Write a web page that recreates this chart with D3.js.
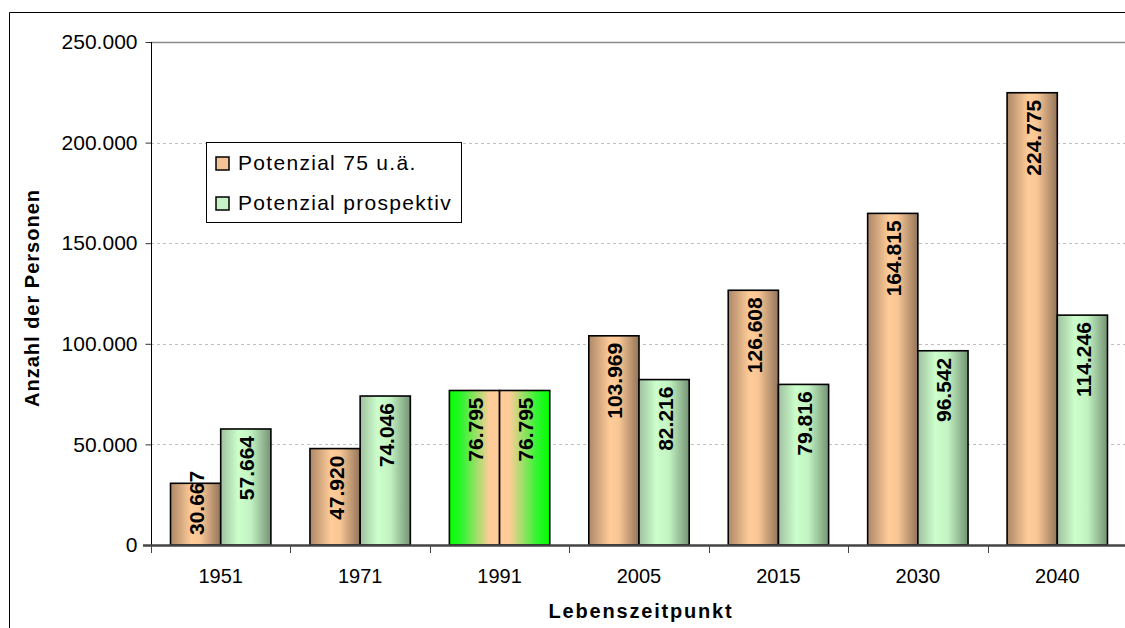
<!DOCTYPE html>
<html>
<head>
<meta charset="utf-8">
<script src="https://cdn.jsdelivr.net/npm/d3@7"></script>
<style>
  body { margin: 0; background: #fff; overflow: hidden; }
  svg { display: block; font-family: "Liberation Sans", Arial, sans-serif; }
</style>
</head>
<body>
<div id="chart"></div>
<script>
// chart data
var years = ["1951", "1971", "1991", "2005", "2015", "2030", "2040"];
var seriesNames = ["Potenzial 75 u.ä.", "Potenzial prospektiv"];
var potenzial75 = [30667, 47920, 76795, 103969, 126608, 164815, 224775];
var potenzialProspektiv = [57664, 74046, 76795, 82216, 79816, 96542, 114246];
var yTicks = [0, 50000, 100000, 150000, 200000, 250000];
var highlightYears = ["1991"];

var width = 1125, height = 628;
var plot = {left: 151, top: 42, right: 1127, bottom: 545};

var fmt = function (v) {
  return d3.format(",")(v).replace(/,/g, ".");
};

var svg = d3.select("#chart").append("svg")
  .attr("width", width)
  .attr("height", height);

var defs = svg.append("defs");

function addGradient(id, stops) {
  var g = defs.append("linearGradient")
    .attr("id", id)
    .attr("x1", "0").attr("y1", "0")
    .attr("x2", "1").attr("y2", "0");
  stops.forEach(function (s) {
    g.append("stop").attr("offset", s[0]).attr("stop-color", s[1]);
  });
}
addGradient("gradOrange", [[0, "#ad8868"], [0.42, "#ffcc99"], [0.6, "#f8c694"], [1, "#937459"]]);
addGradient("gradGreen", [[0, "#a0c0a0"], [0.35, "#ccffcc"], [0.6, "#c2f2c2"], [1, "#749474"]]);
addGradient("gradHiLeft", [[0, "#00ff00"], [0.25, "#30f530"], [0.8, "#ffcc99"], [1, "#ffcc99"]]);
addGradient("gradHiRight", [[0, "#ffcc99"], [0.2, "#ffcc99"], [0.75, "#30f530"], [1, "#00ff00"]]);

// outer chart frame: only left and top edges are inside the picture
svg.append("path")
  .attr("d", "M9.5," + height + "V12.5H" + width)
  .attr("fill", "none")
  .attr("stroke", "#000");

var x = d3.scaleBand()
  .domain(years)
  .range([plot.left, plot.right]);

var xSub = d3.scaleBand()
  .domain([0, 1])
  .range([x.bandwidth() * 0.14, x.bandwidth() * 0.86]);

var y = d3.scaleLinear()
  .domain([0, 250000])
  .range([plot.bottom, plot.top]);

// gridlines
svg.append("g")
  .selectAll("line")
  .data(yTicks.filter(function (d) { return d > 0 && d < 250000; }))
  .join("line")
  .attr("x1", plot.left).attr("x2", width)
  .attr("y1", function (d) { return Math.round(y(d)) + 0.5; })
  .attr("y2", function (d) { return Math.round(y(d)) + 0.5; })
  .attr("stroke", "#c0c0c0")
  .attr("stroke-dasharray", "3,3");

svg.append("line")
  .attr("x1", plot.left).attr("x2", width)
  .attr("y1", y(250000) + 0.5).attr("y2", y(250000) + 0.5)
  .attr("stroke", "#8a8a8a")
  .attr("stroke-width", 1.5);

// y axis
var yAxis = d3.axisLeft(y)
  .tickValues(yTicks)
  .tickSize(6)
  .tickPadding(8)
  .tickFormat(fmt);

var yG = svg.append("g")
  .attr("transform", "translate(" + (plot.left + 0.5) + ",0)")
  .call(yAxis);
yG.select(".domain").remove();
yG.selectAll(".tick line").attr("stroke", "#333");
yG.selectAll(".tick text")
  .attr("font-size", 21)
  .attr("font-family", "Liberation Sans, Arial, sans-serif")
  .attr("fill", "#000");

svg.append("line")
  .attr("x1", plot.left + 0.5).attr("x2", plot.left + 0.5)
  .attr("y1", plot.top).attr("y2", plot.bottom + 5)
  .attr("stroke", "#000");

// bars
var seriesValues = [potenzial75, potenzialProspektiv];
var barData = [];
years.forEach(function (yr, i) {
  seriesValues.forEach(function (vals, s) {
    barData.push({year: yr, s: s, value: vals[i]});
  });
});

function barFill(d) {
  if (highlightYears.indexOf(d.year) >= 0) {
    return d.s === 0 ? "url(#gradHiLeft)" : "url(#gradHiRight)";
  }
  return d.s === 0 ? "url(#gradOrange)" : "url(#gradGreen)";
}

var bars = svg.append("g");
bars.selectAll("rect")
  .data(barData)
  .join("rect")
  .attr("x", function (d) { return x(d.year) + xSub(d.s); })
  .attr("y", function (d) { return y(d.value); })
  .attr("width", xSub.bandwidth())
  .attr("height", function (d) { return plot.bottom - y(d.value); })
  .attr("fill", barFill)
  .attr("stroke", "#000")
  .attr("stroke-width", 1.6);

// value labels, rotated, inside end
var labelSize = 21;
bars.selectAll("text")
  .data(barData)
  .join("text")
  .attr("font-size", labelSize)
  .attr("font-weight", "bold")
  .attr("fill", "#000")
  .attr("text-anchor", "end")
  .attr("dominant-baseline", "central")
  .text(function (d) { return fmt(d.value); })
  .attr("transform", function (d) {
    var len = this.getComputedTextLength();
    var cx = x(d.year) + xSub(d.s) + xSub.bandwidth() / 2 + 1;
    var topY = y(d.value) + 7;
    if (topY + len > plot.bottom - 10) topY = plot.bottom - 10 - len;
    return "translate(" + cx + "," + topY + ") rotate(-90)";
  });

// x axis
var xAxis = d3.axisBottom(x).tickSize(0).tickPadding(24);
var xG = svg.append("g")
  .attr("transform", "translate(0," + plot.bottom + ")")
  .call(xAxis);
xG.select(".domain").remove();
xG.selectAll(".tick text")
  .attr("font-size", 20)
  .attr("font-family", "Liberation Sans, Arial, sans-serif")
  .attr("fill", "#000");

svg.append("line")
  .attr("x1", plot.left - 8).attr("x2", width)
  .attr("y1", plot.bottom + 0.5).attr("y2", plot.bottom + 0.5)
  .attr("stroke", "#444")
  .attr("stroke-width", 2.5);

svg.append("g")
  .selectAll("line")
  .data(years)
  .join("line")
  .attr("x1", function (d) { return Math.round(x(d)) + 0.5; })
  .attr("x2", function (d) { return Math.round(x(d)) + 0.5; })
  .attr("y1", plot.bottom)
  .attr("y2", plot.bottom + 8)
  .attr("stroke", "#444");

// axis titles
svg.append("text")
  .attr("x", (plot.left + plot.right) / 2 + 2)
  .attr("y", 618)
  .attr("text-anchor", "middle")
  .attr("font-size", 20)
  .attr("font-weight", "bold")
  .attr("letter-spacing", 1.8)
  .text("Lebenszeitpunkt");

svg.append("text")
  .attr("transform", "translate(39,298) rotate(-90)")
  .attr("text-anchor", "middle")
  .attr("font-size", 20)
  .attr("font-weight", "bold")
  .attr("letter-spacing", 1)
  .text("Anzahl der Personen");

// legend
var legend = svg.append("g").attr("transform", "translate(206,142)");
legend.append("rect")
  .attr("x", 0.5).attr("y", 0.5)
  .attr("width", 255).attr("height", 80)
  .attr("fill", "#fff")
  .attr("stroke", "#000");

var legendColors = ["#f5c496", "#c6f2c6"];
var items = legend.selectAll("g.item")
  .data(seriesNames)
  .join("g")
  .attr("class", "item")
  .attr("transform", function (d, i) { return "translate(0," + (i * 40) + ")"; });

items.append("rect")
  .attr("x", 10).attr("y", 15)
  .attr("width", 13).attr("height", 13)
  .attr("fill", function (d, i) { return legendColors[i]; })
  .attr("stroke", "#000")
  .attr("stroke-width", 1.5);

items.append("text")
  .attr("x", 32).attr("y", 28)
  .attr("font-size", 21)
  .attr("letter-spacing", 1.3)
  .text(function (d) { return d; });
</script>
</body>
</html>
